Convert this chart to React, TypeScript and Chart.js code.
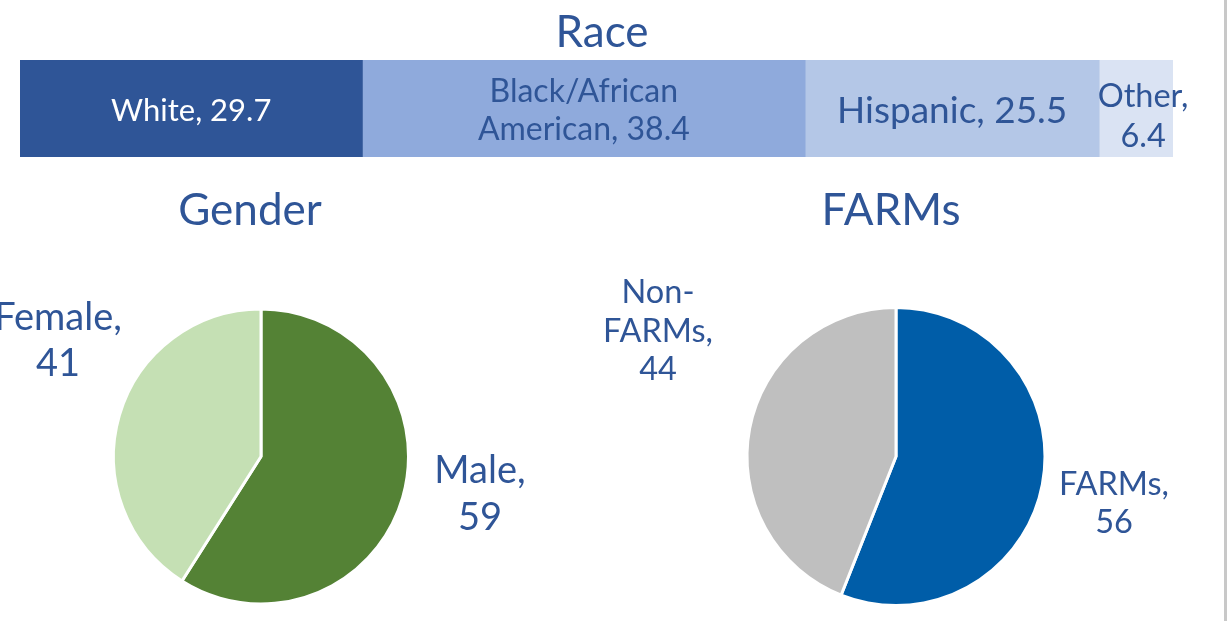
import React, { useEffect, useRef } from "react";
import { Chart, registerables } from "chart.js";

Chart.register(...registerables);

// ---------- DATA ----------
const raceTitle = "Race";
const raceCategories = ["White", "Black/African American", "Hispanic", "Other"];
const raceValues = [29.7, 38.4, 25.5, 6.4];

const genderTitle = "Gender";
const genderCategories = ["Male", "Female"];
const genderValues = [59, 41];

const farmsTitle = "FARMs";
const farmsCategories = ["FARMs", "Non-FARMs"];
const farmsValues = [56, 44];

// ---------- STYLES ----------
const TEXT_BLUE = "#2F5597";
const FONT = "Lato, 'Open Sans', sans-serif";
const raceColors = ["#2F5597", "#8FAADC", "#B4C7E7", "#DAE3F3"];
const genderColors = ["#548235", "#C5E0B4"];
const farmsColors = ["#005DA8", "#BFBFBF"];

type LabelStyle = { size: number; color: string; dx: number; dy: number; lh: number; wrap: number };

const raceLabelStyles: LabelStyle[] = [
  { size: 31, color: "#FFFFFF", dx: 0, dy: 12.5, lh: 38, wrap: 400 },
  { size: 32, color: TEXT_BLUE, dx: 0, dy: -6.5, lh: 38, wrap: 240 },
  { size: 37, color: TEXT_BLUE, dx: 0, dy: 14.5, lh: 40, wrap: 400 },
  { size: 32.5, color: TEXT_BLUE, dx: 7, dy: -1.5, lh: 39.5, wrap: 95 },
];
const genderLabelStyles: LabelStyle[] = [
  { size: 38, color: TEXT_BLUE, dx: 219, dy: 26.5, lh: 47, wrap: 110 },
  { size: 38, color: TEXT_BLUE, dx: -203, dy: -126.5, lh: 46, wrap: 140 },
];
const farmsLabelStyles: LabelStyle[] = [
  { size: 32.5, color: TEXT_BLUE, dx: 218, dy: 38.5, lh: 38, wrap: 120 },
  { size: 32.5, color: TEXT_BLUE, dx: -238, dy: -153.5, lh: 38.5, wrap: 120 },
];

function wrapText(ctx: CanvasRenderingContext2D, text: string, maxWidth: number): string[] {
  const tokens = text.split(/(?<=[ \-])/);
  const lines: string[] = [];
  let cur = "";
  for (const t of tokens) {
    const trial = cur + t;
    if (cur && ctx.measureText(trial.trimEnd()).width > maxWidth) {
      lines.push(cur.trimEnd());
      cur = t;
    } else {
      cur = trial;
    }
  }
  if (cur) lines.push(cur.trimEnd());
  return lines;
}

function drawLabel(ctx: CanvasRenderingContext2D, text: string, x: number, y: number, s: LabelStyle) {
  ctx.save();
  ctx.font = `${s.size}px ${FONT}`;
  ctx.fillStyle = s.color;
  ctx.textAlign = "center";
  ctx.textBaseline = "alphabetic";
  const lines = wrapText(ctx, text, s.wrap);
  lines.forEach((ln, i) => ctx.fillText(ln, x + s.dx, y + s.dy + i * s.lh));
  ctx.restore();
}

function drawTitle(ctx: CanvasRenderingContext2D, text: string, x: number, y: number) {
  ctx.save();
  ctx.font = `44px ${FONT}`;
  ctx.fillStyle = TEXT_BLUE;
  ctx.textAlign = "center";
  ctx.textBaseline = "alphabetic";
  ctx.fillText(text, x, y);
  ctx.restore();
}

const fmt = (v: number) => String(v);

function makeRaceChart(canvas: HTMLCanvasElement) {
  const plugin = {
    id: "raceLabels",
    afterDatasetsDraw(chart: any) {
      const ctx = chart.ctx;
      const area = chart.chartArea;
      drawTitle(ctx, raceTitle, (area.left + area.right) / 2 + 5.5, area.top - 13);
      raceCategories.forEach((cat, i) => {
        const el: any = chart.getDatasetMeta(i).data[0];
        const cx = (el.x + el.base) / 2;
        drawLabel(ctx, `${cat}, ${fmt(raceValues[i])}`, cx, el.y, raceLabelStyles[i]);
      });
    },
  };
  return new Chart(canvas, {
    type: "bar",
    data: {
      labels: [raceTitle],
      datasets: raceCategories.map((c, i) => ({
        label: c,
        data: [raceValues[i]],
        backgroundColor: raceColors[i],
        borderWidth: 0,
        barPercentage: 1,
        categoryPercentage: 1,
      })),
    },
    options: {
      indexAxis: "y",
      responsive: false,
      animation: false,
      layout: { padding: { left: 20, right: 56, top: 60, bottom: 13 } },
      scales: {
        x: { stacked: true, min: 0, max: 100, display: false },
        y: { stacked: true, display: false },
      },
      plugins: { legend: { display: false }, tooltip: { enabled: false } },
    },
    plugins: [plugin],
  } as any);
}

function makePieChart(
  canvas: HTMLCanvasElement,
  title: string,
  titleDx: number,
  categories: string[],
  values: number[],
  colors: string[],
  styles: LabelStyle[],
  padding: { left: number; right: number; top: number; bottom: number }
) {
  const plugin = {
    id: "pieLabels",
    afterDatasetsDraw(chart: any) {
      const ctx = chart.ctx;
      const arc: any = chart.getDatasetMeta(0).data[0];
      drawTitle(ctx, title, arc.x + titleDx, arc.y - 231.5);
      categories.forEach((cat, i) => {
        drawLabel(ctx, `${cat}, ${fmt(values[i])}`, arc.x, arc.y, styles[i]);
      });
    },
  };
  return new Chart(canvas, {
    type: "pie",
    data: {
      labels: categories,
      datasets: [
        {
          data: values,
          backgroundColor: colors,
          borderColor: "#FFFFFF",
          borderWidth: 3,
        },
      ],
    },
    options: {
      responsive: false,
      animation: false,
      layout: { padding },
      plugins: { legend: { display: false }, tooltip: { enabled: false } },
    },
    plugins: [plugin],
  } as any);
}

export default function App() {
  const raceRef = useRef<HTMLCanvasElement>(null);
  const genderRef = useRef<HTMLCanvasElement>(null);
  const farmsRef = useRef<HTMLCanvasElement>(null);

  useEffect(() => {
    const charts: Chart[] = [];
    if (raceRef.current) charts.push(makeRaceChart(raceRef.current));
    if (genderRef.current)
      charts.push(
        makePieChart(genderRef.current, genderTitle, -11, genderCategories, genderValues, genderColors, genderLabelStyles, {
          left: 112,
          right: 150,
          top: 137.5,
          bottom: 15.5,
        })
      );
    if (farmsRef.current)
      charts.push(
        makePieChart(farmsRef.current, farmsTitle, -5, farmsCategories, farmsValues, farmsColors, farmsLabelStyles, {
          left: 185.5,
          right: 182.5,
          top: 136,
          bottom: 14,
        })
      );
    const fonts: any = (document as any).fonts;
    if (fonts && fonts.load) {
      Promise.all([fonts.load(`30px Lato`), fonts.load(`44px Lato`)])
        .then(() => charts.forEach((c) => c.update()))
        .catch(() => {});
    }
    return () => charts.forEach((c) => c.destroy());
  }, []);

  return (
    <div
      style={{
        position: "absolute",
        left: 0,
        top: 0,
        width: 1229,
        height: 621,
        background: "#FFFFFF",
        overflow: "hidden",
      }}
    >
      <canvas
        ref={raceRef}
        width={1229}
        height={170}
        style={{ position: "absolute", left: 0, top: 0, width: 1229, height: 170 }}
      />
      <canvas
        ref={genderRef}
        width={560}
        height={451}
        style={{ position: "absolute", left: 0, top: 170, width: 560, height: 451 }}
      />
      <canvas
        ref={farmsRef}
        width={669}
        height={451}
        style={{ position: "absolute", left: 560, top: 170, width: 669, height: 451 }}
      />
      <div
        style={{
          position: "absolute",
          left: 1224,
          top: 0,
          width: 3,
          height: 621,
          background: "#C8C8C8",
        }}
      />
    </div>
  );
}
